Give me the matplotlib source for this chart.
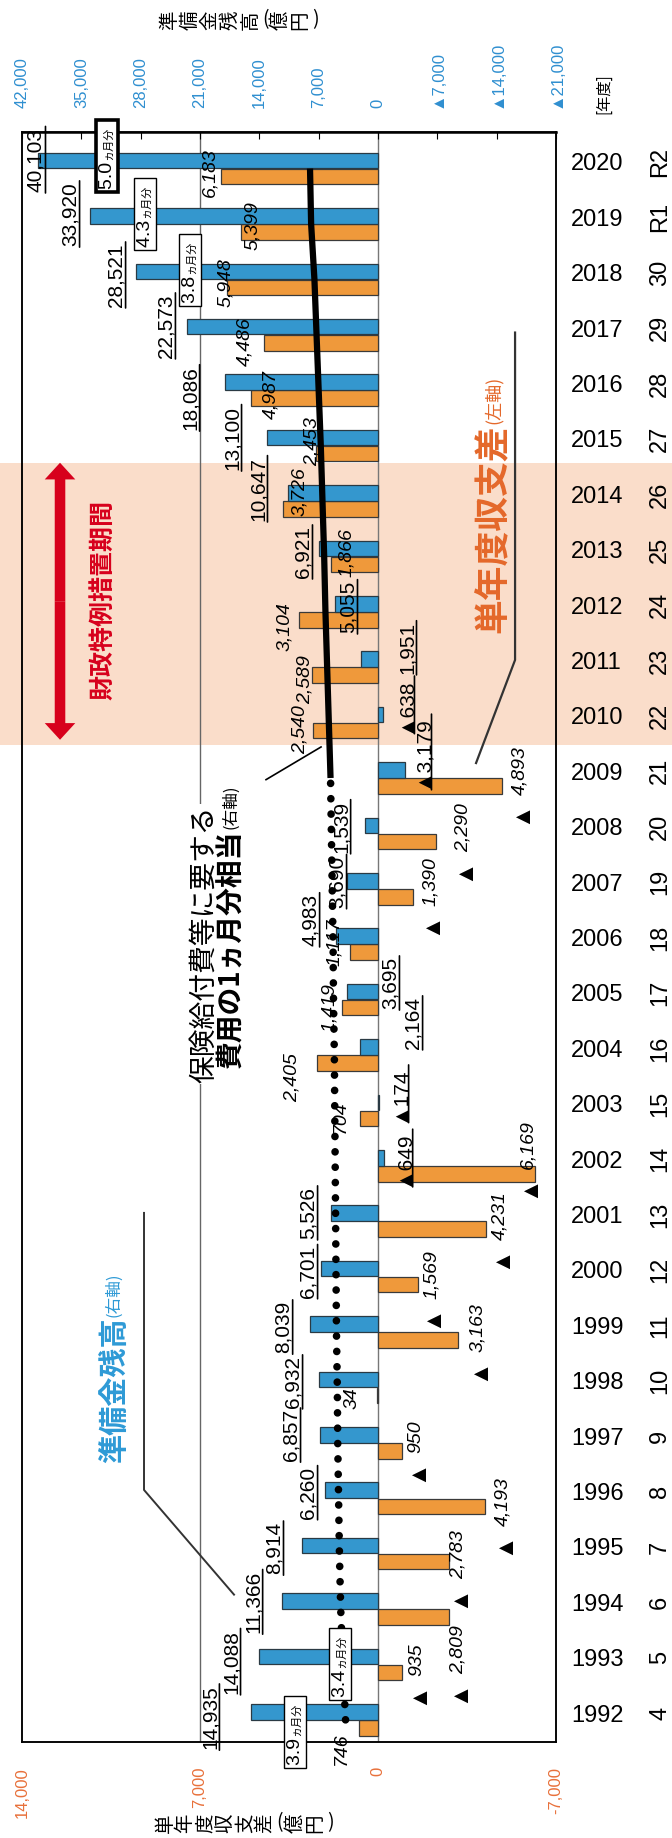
import matplotlib
matplotlib.use('Agg')
import matplotlib.pyplot as plt
import numpy as np
from matplotlib.patches import Rectangle
from matplotlib.transforms import blended_transform_factory

plt.rcParams['font.family'] = ['Liberation Sans', 'Noto Sans CJK JP', 'DejaVu Sans']
JP = ['Noto Sans CJK JP', 'DejaVu Sans']

# ---------------- data ----------------
years = np.arange(1992, 2021)
era = ['4', '5', '6', '7', '8', '9', '10', '11', '12', '13', '14', '15', '16', '17',
       '18', '19', '20', '21', '22', '23', '24', '25', '26', '27', '28', '29', '30', 'R1', 'R2']

# 準備金残高 (right axis, 億円)
reserve = [14935, 14088, 11366, 8914, 6260, 6857, 6932, 8039, 6701, 5526, -649, -174,
           2164, 3695, 4983, 3690, 1539, -3179, -638, 1951, 5055, 6921, 10647, 13100,
           18086, 22573, 28521, 33920, 40103]

# 単年度収支差 (left axis, 億円)
balance = [746, -935, -2809, -2783, -4193, -950, 34, -3163, -1569, -4231, -6169, 704,
           2405, 1419, 1117, -1390, -2290, -4893, 2540, 2589, 3104, 1866, 3726, 2453,
           4987, 4486, 5948, 5399, 6183]

# 保険給付費等に要する費用の1ヵ月分相当 (right axis, 億円)
month_cost = [3830, 4140, 4400, 4550, 4650, 4750, 4800, 4900, 4950, 5000, 5050, 5100,
              5150, 5250, 5300, 5400, 5500, 5600, 5800, 6000, 6200, 6350, 6550, 6750,
              7000, 7250, 7500, 7890, 8020]

months_label = ['3.9', '3.4', '3.8', '4.3', '5.0']

left_ticks = [14000, 7000, 0, -7000]
left_ticklabels = ['14,000', '7,000', '0', '-7,000']
right_ticks = [42000, 35000, 28000, 21000, 14000, 7000, 0, -7000, -14000, -21000]
right_ticklabels = ['42,000', '35,000', '28,000', '21,000', '14,000', '7,000', '0',
                    '▲7,000', '▲14,000', '▲21,000']

BLUE = '#3497CE'
ORANGE = '#EF993B'
TICK_BLUE = '#2F8FD0'
TICK_ORANGE = '#E8703A'
RED = '#D7001C'

# ---------------- figure ----------------
W, H = 672, 1838
fig = plt.figure(figsize=(W / 100, H / 100), dpi=100)
ax = fig.add_axes([22 / W, 96 / H, 534 / W, 1610 / H])
ax.set_facecolor('none')
ax2 = ax.twiny()

ax.set_xlim(14000, -7000)
ax2.set_xlim(42000, -21000)
ax.set_ylim(1991.60, 2020.66)

# 財政特例措置期間 band
band = Rectangle((0, 2009.60), 1, 5.09,
                 transform=blended_transform_factory(fig.transFigure, ax.transData),
                 facecolor='#FADDCA', edgecolor='none', zorder=0, clip_on=False)
ax.add_patch(band)

ax.axvline(0, color='#777777', lw=1, zorder=1)
ax.axvline(7000, color='#666666', lw=1, zorder=1)

ax.barh(years - 0.145, balance, height=0.28, color=ORANGE, edgecolor='#3a3a3a',
        lw=0.9, zorder=2)
ax2.barh(years + 0.145, reserve, height=0.28, color=BLUE, edgecolor='#2a3a44',
         lw=0.9, zorder=2)

# 1ヵ月分相当 line: dotted up to 2009, solid afterwards
ax2.plot(month_cost[:18], years[:18], color='k', lw=5.5, ls=(0, (0.01, 2.0)),
         dash_capstyle='round', zorder=3)
ax2.plot(month_cost[17:], years[17:], color='k', lw=4.5, solid_capstyle='butt', zorder=3)

# ---------------- axes styling ----------------
for a in (ax, ax2):
    for sp in a.spines.values():
        sp.set_color('k')
        sp.set_linewidth(1.1)
ax2.spines['top'].set_linewidth(1.8)

ax.set_xticks(left_ticks)
ax.set_xticklabels(left_ticklabels, rotation=90, color=TICK_ORANGE, fontsize=12)
ax.tick_params(axis='x', length=0, pad=18)

ax2.set_xticks(right_ticks)
ax2.set_xticklabels(right_ticklabels, rotation=90, color=TICK_BLUE, fontsize=12)
ax2.tick_params(axis='x', direction='in', length=5, pad=17)

ax.yaxis.tick_right()
ax.set_yticks(years + 0.12)
ax.set_yticklabels([str(y) for y in years], fontsize=17)
ax.tick_params(axis='y', length=0, pad=11)

yb = blended_transform_factory(ax.transAxes, ax.transData)
for y, e in zip(years, era):
    ax.text(1.195, y + 0.12, e, transform=yb, rotation=90, ha='center', va='center',
            fontsize=17)
ax.text(1.09, 1.024, '[年度]', transform=ax.transAxes, rotation=90, ha='center',
        va='center', fontsize=11, family=JP)


def char_row(s, x0, y, size=14):
    # vertical-writing label seen sideways: each glyph turned on its own
    x = x0
    for ch in s:
        w = 10 if ch in '()' else 20
        fig.text((x + w / 2) / W, 1 - y / H, ch, rotation=0 if ch in '()' else 90,
                 ha='center', va='center', fontsize=size, family=JP)
        x += w


char_row('準備金残高(億円)', 160, 20)
char_row('単年度収支差(億円)', 155, 1823)

# ---------------- value labels ----------------
T = ax.transData

res_lab_y = [1992.05, 1993.05, 1994.13, 1995.10, 1996.10, 1997.14, 1998.10, 1999.09,
             2000.09, 2001.15, 2002.14, 2003.30, 2004.58, 2005.30, 2006.44, 2007.13,
             2008.12, 2009.47, 2010.32, 2011.35, 2012.09, 2013.08, 2014.22, 2015.14,
             2015.86, 2017.16, 2018.08, 2019.18, 2020.16]
res_lab_x = [6610, 5780, 4910, 4090, 2750, 3420, 3340, 3730, 2750, 2750, -990, -830,
             -1380, -470, 2670, 1610, 1450, -1730, -1060, -1140, 1180, 2950, 4720, 5740,
             7390, 8340, 10300, 12110, 13450]
bal_lab_y = [1991.48, 1993.08, 1993.26, 1994.98, 1995.94, 1997.11, 1997.81, 1999.08,
             2000.03, 2001.10, 2002.38, 2002.88, 2003.59, 2004.85, 2006.03, 2007.13,
             2008.10, 2009.13, 2009.87, 2010.77, 2011.73, 2013.07, 2014.17, 2015.07,
             2015.92, 2016.87, 2017.94, 2018.97, 2019.92]
bal_lab_x = [1450, -1540, -3150, -3150, -4920, -1500, 1020, -3930, -2090, -4800, -5900,
             1490, 3380, 1890, 1730, -2050, -3340, -5590, 3070, 2870, 3660, 1220, 3070,
             2590, 4210, 5230, 5980, 4950, 6610]

for v, lx, ly in zip(reserve, res_lab_x, res_lab_y):
    s = ('▲' if v < 0 else '') + f'{abs(v):,}'
    t = ax2.text(lx, ly, s, transform=T, rotation=90, ha='center', va='center',
                 fontsize=15, zorder=6)
    ax2.annotate('', xy=(1.0, -0.02), xycoords=t, xytext=(1.0, 1.02), textcoords=t,
                 arrowprops=dict(arrowstyle='-', lw=1.2, color='k', shrinkA=0, shrinkB=0),
                 zorder=6)

for v, lx, ly in zip(balance, bal_lab_x, bal_lab_y):
    t = ax2.text(lx, ly, f'{abs(v):,}', transform=T, rotation=90, ha='center',
                 va='center', fontsize=14, style='italic', zorder=6)
    if v < 0:
        ax2.annotate('▲', xy=(0.5, 0), xycoords=t, xytext=(0, -4),
                     textcoords='offset points', rotation=90, ha='center', va='top',
                     fontsize=17, zorder=6)

# ヵ月分 boxes
box_x = [3263, 1493, 7393, 9162, 10657]
box_y = [1991.78, 1993.01, 2018.17, 2019.18, 2020.23]
for i, (lab, bx, by) in enumerate(zip(months_label, box_x, box_y)):
    bold = i == len(months_label) - 1
    t = ax2.text(bx, by, lab + '\u3000\u3000', transform=T, rotation=90, ha='center',
                 va='center', fontsize=14, zorder=7,
                 bbox=dict(boxstyle='square,pad=0.15', fc='white', ec='k',
                           lw=2.6 if bold else 1.0))
    ax2.annotate('ヵ月分', xy=(0.58, 0.69), xycoords=t, rotation=90, ha='center',
                 va='center', fontsize=8, family=JP, zorder=8)

# ---------------- callouts ----------------
t1 = ax2.text(10382, 1996.64, '準備金残高', transform=T, rotation=90, ha='center',
              va='bottom', fontsize=21, fontweight='bold', color='#2E9AD6', family=JP,
              zorder=6)
ax2.annotate('(右軸)', xy=(0.5, 1.0), xycoords=t1, rotation=90, ha='center',
             va='bottom', fontsize=12, color='#2E9AD6', family=JP, zorder=6)
ax2.plot([9202, 9202, 5662], [2001.15, 1996.15, 1994.26], transform=T, color='#333333',
         lw=1.4, zorder=5)

t2 = ax2.text(-4524, 2011.62, '単年度収支差', transform=T, rotation=90, ha='center',
              va='bottom', fontsize=25, fontweight='bold', color='#E4682A', family=JP,
              zorder=6)
ax2.annotate('(左軸)', xy=(0.5, 1.0), xycoords=t2, rotation=90, ha='center',
             va='bottom', fontsize=13, color='#E4682A', family=JP, zorder=6)
ax2.plot([-5390, -5390, -3856], [2017.04, 2011.13, 2009.27], transform=T,
         color='#333333', lw=1.6, zorder=5)

ax2.text(6842, 2003.50, '保険給付費等に要する', transform=T, rotation=90, ha='center',
         va='bottom', fontsize=20, family=JP, zorder=6,
         bbox=dict(boxstyle='square,pad=0.05', fc='white', ec='none'))
t3 = ax2.text(5780, 2003.77, '費用の1ヵ月分相当', transform=T, rotation=90, ha='center',
              va='bottom', fontsize=20, fontweight='bold', family=JP, zorder=6)
ax2.annotate('(右軸)', xy=(0.5, 1.0), xycoords=t3, rotation=90, ha='center',
             va='bottom', fontsize=12, family=JP, zorder=6)
ax2.plot([4404, 2240], [2008.97, 2009.56], transform=T, color='k', lw=1.2, zorder=5)

ax2.text(10814, 2012.22, '財政特例措置期間', transform=T, rotation=90, ha='center',
         va='center', fontsize=18, fontweight='bold', color=RED, family=JP, zorder=6)
mid = 2012.19
for end in (2014.69, 2009.69):
    ax2.annotate('', xy=(12505, end), xycoords=T, xytext=(12505, mid), textcoords=T,
                 arrowprops=dict(arrowstyle='simple,head_width=1.1,head_length=0.6,'
                                            'tail_width=0.38',
                                 mutation_scale=20, color=RED, lw=0, shrinkA=0,
                                 shrinkB=0), zorder=6)

fig.savefig('out.png', dpi=100)
